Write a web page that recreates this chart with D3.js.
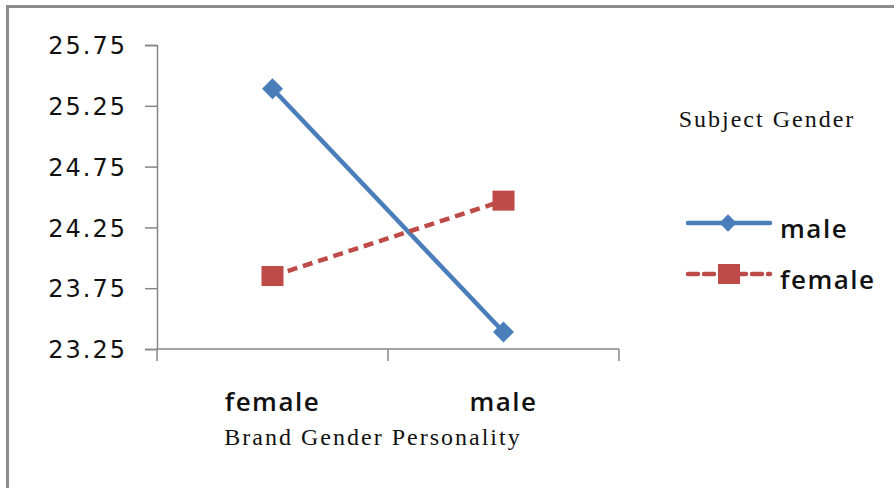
<!DOCTYPE html>
<html><head><meta charset="utf-8">
<script src="https://cdn.jsdelivr.net/npm/d3@7"></script>
<style>html,body{margin:0;padding:0;background:#fff;}svg{display:block;}</style>
</head><body>
<svg id="c" width="894" height="488"></svg>
<script>
const categories = ["female", "male"];
const yTicks = [23.25, 23.75, 24.25, 24.75, 25.25, 25.75];
const seriesNames = ["male", "female"];
const maleValues = [25.39, 23.39];
const femaleValues = [23.85, 24.47];
const xTitle = "Brand Gender Personality";
const legendTitle = "Subject Gender";

const svg = d3.select("#c");
const blue = "#4a7ebb", red = "#be4b48", axisCol = "#868686";

// frame
svg.append("path").attr("d","M7.5,500 L7.5,6.5 L900,6.5")
  .attr("fill","none").attr("stroke","#8c8c8c").attr("stroke-width",3);

const x = d3.scaleBand().domain(categories).range([157,619]);
const y = d3.scaleLinear().domain([23.25,25.75]).range([349,45]);

const yAxis = d3.axisLeft(y).tickValues(yTicks).tickSize(12).tickPadding(18)
  .tickFormat(d3.format(".2f"));
const gy = svg.append("g").attr("transform","translate(157,0)").call(yAxis);
gy.select(".domain").attr("stroke",axisCol).attr("stroke-width",1.5);
gy.selectAll(".tick line").attr("stroke",axisCol).attr("stroke-width",1.5);
gy.selectAll(".tick text").attr("font-family","DejaVu Sans").attr("font-size",24)
  .attr("fill","#111").attr("letter-spacing",2).attr("dy","0.36em");

const gx = svg.append("g").attr("transform","translate(0,349)");
gx.append("line").attr("x1",x.range()[0]).attr("x2",x.range()[1])
  .attr("stroke",axisCol).attr("stroke-width",1.5);
const xt = categories.map(c=>x(c)).concat([x.range()[1]]);
gx.selectAll("line.t").data(xt).join("line").attr("class","t")
  .attr("x1",d=>d).attr("x2",d=>d).attr("y1",0).attr("y2",12)
  .attr("stroke",axisCol).attr("stroke-width",1.5);
gx.selectAll("text.c").data(categories).join("text").attr("class","c")
  .attr("x",d=>x(d)+x.bandwidth()/2).attr("y",62)
  .attr("text-anchor","middle").attr("font-family","Open Sans").attr("font-weight",600)
  .attr("font-size",26).attr("letter-spacing",1.5).attr("fill","#111").text(d=>d);

svg.append("text").attr("x",373).attr("y",445).attr("text-anchor","middle")
  .attr("font-family","Liberation Serif").attr("font-size",24).attr("letter-spacing",2)
  .attr("fill","#111").text(xTitle);

const cx = d=>x(d)+x.bandwidth()/2;
const line = d3.line().x((d,i)=>cx(categories[i])).y(d=>y(d));

function drawDiamond(g, px, py, s){
  g.append("path").attr("d", d3.symbol().type(d3.symbolSquare).size(s)())
   .attr("transform",`translate(${px},${py}) rotate(45)`).attr("fill",blue);
}
function drawSquare(g, px, py){
  g.append("rect").attr("x",px-11).attr("y",py-10).attr("width",22).attr("height",20).attr("fill",red);
}

svg.append("path").datum(maleValues).attr("d",line).attr("fill","none")
  .attr("stroke",blue).attr("stroke-width",4.5);
maleValues.forEach((v,i)=>drawDiamond(svg,cx(categories[i]),y(v),220));

svg.append("path").datum(femaleValues).attr("d",line).attr("fill","none")
  .attr("stroke",red).attr("stroke-width",4.5).attr("stroke-dasharray","10,6");
femaleValues.forEach((v,i)=>drawSquare(svg,cx(categories[i]),y(v)));

// legend
svg.append("text").attr("x",767).attr("y",127).attr("text-anchor","middle")
  .attr("font-family","Liberation Serif").attr("font-size",24).attr("letter-spacing",2)
  .attr("fill","#111").text(legendTitle);

const lg = svg.append("g");
const legendRows = [{name:seriesNames[0], y:223, color:blue, dash:null},
                    {name:seriesNames[1], y:274, color:red, dash:"10,6"}];
legendRows.forEach((r,i)=>{
  lg.append("line").attr("x1",688).attr("x2",770).attr("y1",r.y).attr("y2",r.y)
    .attr("stroke",r.color).attr("stroke-width",4.5).attr("stroke-linecap","round")
    .attr("stroke-dasharray",r.dash);
  if(i===0) drawDiamond(lg,728,r.y,150); else drawSquare(lg,729,r.y);
  lg.append("text").attr("x",780).attr("y",r.y+15).attr("font-family","Open Sans")
    .attr("font-weight",600).attr("font-size",26).attr("letter-spacing",1.5)
    .attr("fill","#111").text(r.name);
});
</script>
</body></html>
